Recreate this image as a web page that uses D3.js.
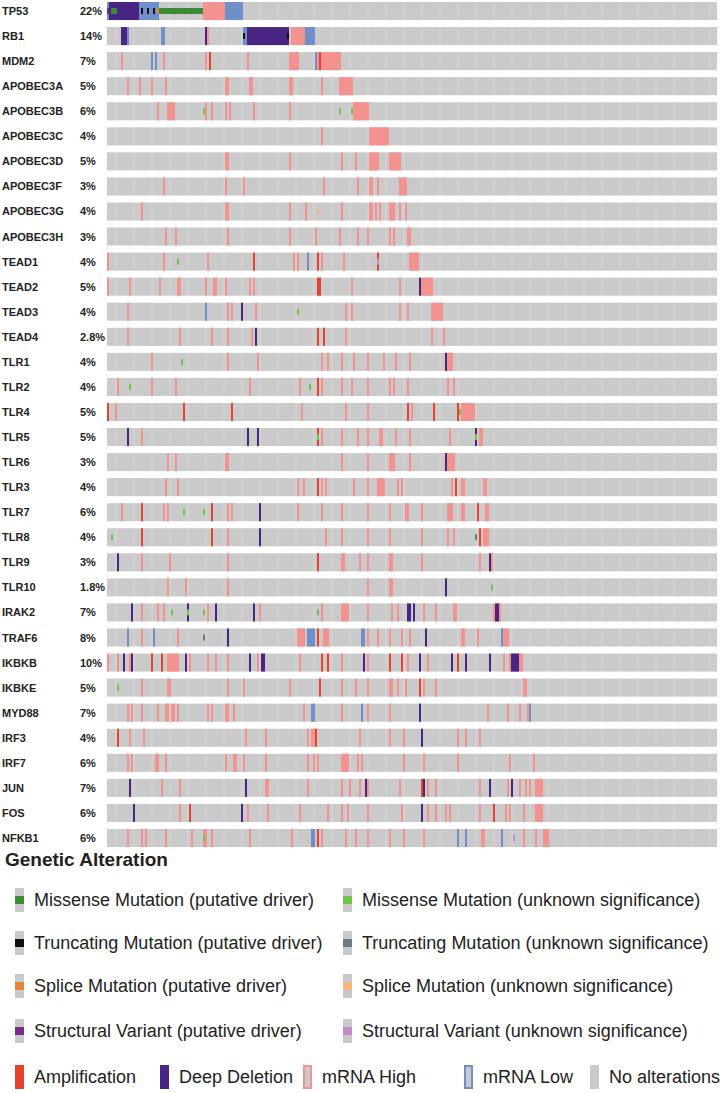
<!DOCTYPE html>
<html>
<head>
<meta charset="utf-8">
<script src="https://cdn.jsdelivr.net/npm/d3@7"></script>
<style>
  body { margin: 0; background: #fff; }
  text { font-family: "Liberation Sans", Arial, sans-serif; }
</style>
</head>
<body>
<div id="chart"></div>
<script>
let genes = ["TP53","RB1","MDM2","APOBEC3A","APOBEC3B","APOBEC3C","APOBEC3D","APOBEC3F","APOBEC3G","APOBEC3H",
  "TEAD1","TEAD2","TEAD3","TEAD4","TLR1","TLR2","TLR4","TLR5","TLR6","TLR3","TLR7","TLR8","TLR9","TLR10",
  "IRAK2","TRAF6","IKBKB","IKBKE","MYD88","IRF3","IRF7","JUN","FOS","NFKB1"]
let pcts = ["22%","14%","7%","5%","6%","4%","5%","3%","4%","3%","4%","5%","4%","2.8%","4%","4%","5%","5%","3%","4%",
  "6%","4%","3%","1.8%","7%","8%","10%","5%","7%","4%","6%","7%","6%","6%"]
let nSamples = 305

// sample indices per gene ("a-b" = run of samples)
let mrnaHigh = [
  ["TP53","48-58"], ["RB1","50 92-98"], ["MDM2","7 28 49 70 91-95 105-116"],
  ["APOBEC3A","10 16 22 29 59-60 71-72 91-92 107 116-122"],
  ["APOBEC3B","25 30-33 49 52 59 61 73 91 123-130"],
  ["APOBEC3C","107 131-140"],
  ["APOBEC3D","59-60 91 117 124 131-135 141-146"],
  ["APOBEC3F","28 59 68 108 125 131-132 135 146-149"],
  ["APOBEC3G","17 59-60 91 99 117 131-132 134 136 141-143 146 149"],
  ["APOBEC3H","29 34 60 91 104 116 125 130 141 143 150-151"],
  ["TEAD1","0 28 50 93 95 107 118 151-155"],
  ["TEAD2","0 11 26 35-36 49 53-54 59 71 73 122 146 157-162"],
  ["TEAD3","10 60 62 74 119 122 146 150 162-167"],
  ["TEAD4","10 36 52 60 72 119 162 168"],
  ["TLR1","22 60 75 107 110 117 123 130 138 144 151 170-172"],
  ["TLR2","5 22 34 71 96 107 117 122 130 141 143 150 170 173"],
  ["TLR4","4 97 119 130 152 177-183"],
  ["TLR5","17 107 117 125 130 136-137 144 151 171 186-187"],
  ["TLR6","30 34 59-60 117 130 141-143 151 170-173"],
  ["TLR3","29 35 95 98 107 109 123 130 135-138 145 147 172 177-178 188-189"],
  ["TLR7","7 28 30 60 62 76 95 107 117 130 141 149-150 157 170-172 177-178 189-190"],
  ["TLR8","60 109 117 130 141 157 170 173 188-190"],
  ["TLR9","17 31 60 117-118 126 130 141-142 157 186 192"],
  ["TLR10","30 39 60 130 141-142"],
  ["IRAK2","17 25 28 50 76 107 117-120 130 142 145 158 164 173-174 193 196"],
  ["TRAF6","17 35 95-98 108-110 130 135 141 147 151 177-178 185 198-200"],
  ["IKBKB","0 5 11 30-35 41 50 54 60 75 96 117 130 150 160 198 201 206-207"],
  ["IKBKE","17 30-31 60 68 91 117 124 130 141-142 145 149 158 164 208-209"],
  ["MYD88","10 12 17 25 29-30 32-33 35 50 52 59-60 63 98 117 130 141 190 200 206 210"],
  ["IRF3","11 18 69 79 100 102 103 126 141 148 175 179 186"],
  ["IRF7","10 12 24-25 29 59 63-64 68 79 100 103 105 117-120 125 127 148 158 175 201 213"],
  ["JUN","27 36 79-80 100 117 121 126 130 146 160 164 186 200 206 209 211 214-217"],
  ["FOS","36 70 80 96 110 117 120 130 147 160 164 169 171 186 199 201 208 214-217"],
  ["NFKB1","10 17 19 29 42 48-49 52 71 92 107 119 124 130 141 148 158 187 188 208 214 218-220"]
]
let mrnaLow = [
  ["TP53","0-5 16-25 59-67"], ["RB1","10 27-28 68-69 99-103"], ["MDM2","22 24 104"],
  ["TEAD1","100"], ["TEAD3","49"], ["TRAF6","10 23 100-103 127-128 197"],
  ["MYD88","102-103 127 211"], ["NFKB1","102-103 175 179 197"]
]
let amp = [
  ["MDM2","51 106"], ["TEAD1","73 105 135"], ["TEAD2","105 106"], ["TEAD4","105 108"],
  ["TLR2","105"], ["TLR4","0 38 62 150 163 175"], ["TLR5","105"], ["TLR3","105 174"],
  ["TLR7","17 52 185"], ["TLR8","17 52 186"], ["TLR9","105"], ["TRAF6","105"],
  ["IKBKB","22 27 107 110 141 147 175"], ["IKBKE","106 156"], ["IRF3","5 104"],
  ["JUN","157"], ["FOS","41 193"], ["NFKB1","105"]
]
let deepDel = [
  ["TP53","1-15"], ["RB1","7-9 49 70-90"], ["TEAD2","156"], ["TEAD3","67"], ["TEAD4","74"],
  ["TLR1","169"], ["TLR5","10 70 75 184"], ["TLR6","169"], ["TLR7","76"], ["TLR8","76"],
  ["TLR9","5 191"], ["TLR10","169"], ["IRAK2","12 40 54 73 150 151 153 194-195"],
  ["TRAF6","60 159"], ["IKBKB","8 12 39 71 77-78 128 156 172 179 191 202-205"],
  ["MYD88","156"], ["IRF3","157"], ["JUN","11 69 129 158 191 202"], ["FOS","13 67 157"]
]
let missenseDriver = [["TP53","2-4 26-47"]]
let missenseVus = [
  ["APOBEC3B","48 116 122"], ["TEAD1","35"], ["TEAD3","95"], ["TLR1","37"], ["TLR2","11 101"],
  ["TLR4","176"], ["TLR5","105 184"], ["TLR7","38 48"], ["TLR8","2"], ["TLR10","192"],
  ["IRAK2","32 40 48 105"], ["IKBKE","5"], ["NFKB1","48"]
]
let truncDriver = [["TP53","17 20 23"], ["RB1","68 90"]]
let truncVus = [["TLR8","184"], ["TRAF6","48"]]
let spliceDriver = [["TP53","25"]]
let spliceVus = [["APOBEC3G","105"]]
let svDriver = [["TP53","0"]]
let svVus = [["TEAD1","135"], ["NFKB1","203"]]

let col = {
  bg: "#cacaca", high: "#f4928f", low: "#6f8fc8", amp: "#e8412c", del: "#4a2483",
  misD: "#3a8a36", misV: "#6fc54b", trD: "#111111", trV: "#6f7a87",
  spD: "#e8853a", spV: "#f5b67a", svD: "#7a2a8c", svV: "#c58ac9"
}

function expand(s) {
  return s.split(" ").flatMap(t => {
    let [a, b] = t.split("-").map(Number)
    return b === undefined ? [a] : d3.range(a, b + 1)
  })
}
function cells(list) {
  return list.flatMap(([g, s]) => expand(s).map(i => ({ g, i })))
}

let width = 720
let height = 1093

let svg = d3.select("#chart").append("svg")
  .attr("width", width).attr("height", height)

let xScale = d3.scaleBand().domain(d3.range(nSamples)).range([107, 717])
let yScale = d3.scaleBand().domain(genes).range([2, 847]).paddingInner(0.28)
let bw = xScale.bandwidth()
let bh = yScale.bandwidth()

// gene names + percentages
genes.forEach((g, k) => {
  svg.append("text").attr("x", 2).attr("y", yScale(g) + bh / 2 + 4)
    .attr("font-size", 11).attr("font-weight", "bold").attr("fill", "#222").text(g)
  svg.append("text").attr("x", 80).attr("y", yScale(g) + bh / 2 + 4)
    .attr("font-size", 11).attr("font-weight", "bold").attr("fill", "#222").text(pcts[k])
})

// unaltered background cells
let bgCells = genes.flatMap(g => d3.range(nSamples).map(i => ({ g, i })))
svg.append("g").selectAll("rect").data(bgCells).enter().append("rect")
  .attr("x", d => xScale(d.i)).attr("y", d => yScale(d.g))
  .attr("width", bw).attr("height", bh)
  .attr("fill", d => d.i % 9 === 4 ? "#d1d1d1" : col.bg)

function full(list, color) {
  svg.append("g").selectAll("rect").data(cells(list)).enter().append("rect")
    .attr("x", d => xScale(d.i)).attr("y", d => yScale(d.g))
    .attr("width", bw).attr("height", bh).attr("fill", color)
}
function inner(list, color) {
  svg.append("g").selectAll("rect").data(cells(list)).enter().append("rect")
    .attr("x", d => xScale(d.i)).attr("y", d => yScale(d.g) + bh / 3)
    .attr("width", bw).attr("height", bh / 3).attr("fill", color)
}

full(mrnaHigh, col.high)
full(mrnaLow, col.low)
full(amp, col.amp)
full(deepDel, col.del)
inner(missenseDriver, col.misD)
inner(missenseVus, col.misV)
inner(truncDriver, col.trD)
inner(truncVus, col.trV)
inner(spliceDriver, col.spD)
inner(spliceVus, col.spV)
inner(svDriver, col.svD)
inner(svVus, col.svV)

// legend
svg.append("text").attr("x", 5).attr("y", 866).attr("font-size", 19)
  .attr("font-weight", "bold").attr("fill", "#222").text("Genetic Alteration")

let mutLegend = [
  ["Missense Mutation (putative driver)", col.misD, "Missense Mutation (unknown significance)", col.misV],
  ["Truncating Mutation (putative driver)", col.trD, "Truncating Mutation (unknown significance)", col.trV],
  ["Splice Mutation (putative driver)", col.spD, "Splice Mutation (unknown significance)", col.spV],
  ["Structural Variant (putative driver)", col.svD, "Structural Variant (unknown significance)", col.svV]
]
let legY = [900, 943, 986, 1031]
mutLegend.forEach((r, k) => {
  [[15, r[0], r[1]], [343, r[2], r[3]]].forEach(([lx, label, c]) => {
    let cy = legY[k]
    svg.append("rect").attr("x", lx).attr("y", cy - 12).attr("width", 9).attr("height", 24).attr("fill", col.bg)
    svg.append("rect").attr("x", lx).attr("y", cy - 4).attr("width", 9).attr("height", 8).attr("fill", c)
    svg.append("text").attr("x", lx + 19).attr("y", cy + 6).attr("font-size", 18).attr("fill", "#222").text(label)
  })
})

let cnaLegend = [
  [15, "Amplification", col.amp, null],
  [160, "Deep Deletion", col.del, null],
  [303, "mRNA High", col.bg, col.high],
  [464, "mRNA Low", col.bg, col.low],
  [590, "No alterations", col.bg, null]
]
cnaLegend.forEach(([lx, label, f, s]) => {
  let cy = 1077
  let r = svg.append("rect").attr("x", lx).attr("y", cy - 12).attr("width", 9).attr("height", 24).attr("fill", f)
  if (s) r.attr("stroke", s).attr("stroke-width", 2).attr("x", lx + 1).attr("y", cy - 11).attr("width", 7).attr("height", 22)
  svg.append("text").attr("x", lx + 19).attr("y", cy + 6).attr("font-size", 18).attr("fill", "#222").text(label)
})
</script>
</body>
</html>
